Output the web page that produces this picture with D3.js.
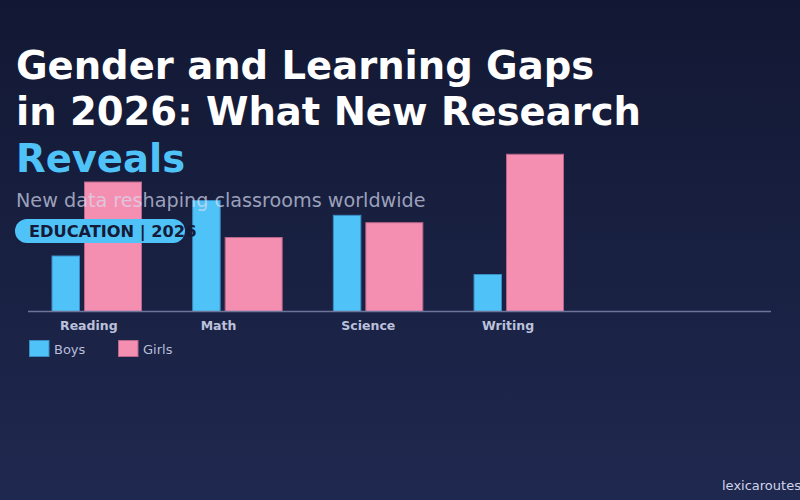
<!DOCTYPE html>
<html>
<head>
<meta charset="utf-8">
<script src="https://cdn.jsdelivr.net/npm/d3@7"></script>
<style>
  html, body { margin: 0; padding: 0; overflow: hidden; }
  body { width: 800px; height: 500px; }
  text { font-family: "DejaVu Sans", sans-serif; }
</style>
</head>
<body>
<script>
const subjects = ["Reading", "Math", "Science", "Writing"];
const seriesNames = ["Boys", "Girls"];
const boysValues = [30, 60, 52, 20];
const girlsValues = [70, 40, 48, 85];

const w = 800;
const h = 500;
const baseY = 311.5;
const colors = { Boys: "#4fc3f7", Girls: "#f48fb1" };
const strokes = { Boys: "#3a8cc4", Girls: "#b8668b" };
const barW = { Boys: 27.5, Girls: 57 };

const svg = d3.select("body")
    .append("svg")
    .attr("width", w)
    .attr("height", h);

// background gradient
const grad = svg.append("defs").append("linearGradient")
    .attr("id", "bg")
    .attr("x1", 0).attr("y1", 0)
    .attr("x2", 0).attr("y2", 1);
grad.append("stop").attr("offset", "0%").attr("stop-color", "#121833");
grad.append("stop").attr("offset", "100%").attr("stop-color", "#1f284f");
svg.append("rect")
    .attr("width", w)
    .attr("height", h)
    .attr("fill", "url(#bg)");

// scales
const xGroup = d3.scaleBand()
    .domain(subjects)
    .range([52, 52 + 140.67 * subjects.length]);

const y = d3.scaleLinear()
    .domain([0, 100])
    .range([baseY, baseY - 185]);

const rows = subjects.map((s, i) => ({ subject: s, Boys: boysValues[i], Girls: girlsValues[i] }));

// bars
const groups = svg.selectAll(".group")
    .data(rows)
    .enter()
    .append("g")
    .attr("class", "group")
    .attr("transform", d => `translate(${xGroup(d.subject)},0)`);

groups.selectAll("rect")
    .data(d => seriesNames.map(k => ({ key: k, value: d[k] })))
    .enter()
    .append("rect")
    .attr("x", d => d.key === "Boys" ? 0 : barW.Boys + 5)
    .attr("y", d => y(d.value))
    .attr("width", d => barW[d.key])
    .attr("height", d => baseY - y(d.value))
    .attr("fill", d => colors[d.key])
    .attr("stroke", d => strokes[d.key])
    .attr("stroke-width", 1);

// baseline
svg.append("line")
    .attr("x1", 28)
    .attr("x2", 771)
    .attr("y1", baseY)
    .attr("y2", baseY)
    .attr("stroke", "#6b7399")
    .attr("stroke-width", 1.5);

// category labels
svg.selectAll(".cat")
    .data(subjects)
    .enter()
    .append("text")
    .attr("class", "cat")
    .attr("x", d => xGroup(d) + 8)
    .attr("y", 330)
    .attr("fill", "#bcc1db")
    .attr("font-size", 12.5)
    .attr("font-weight", "bold")
    .text(d => d);

// legend
const legend = svg.append("g")
    .attr("transform", "translate(29.5, 340.5)");

const legendItem = legend.selectAll(".item")
    .data(seriesNames)
    .enter()
    .append("g")
    .attr("class", "item")
    .attr("transform", (d, i) => `translate(${i * 89}, 0)`);

legendItem.append("rect")
    .attr("width", 19.5)
    .attr("height", 16)
    .attr("fill", d => colors[d])
    .attr("stroke", d => strokes[d])
    .attr("stroke-width", 1);

legendItem.append("text")
    .attr("x", 24.5)
    .attr("y", 13)
    .attr("fill", "#b8bedb")
    .attr("font-size", 13)
    .text(d => d);

// title
const title = svg.append("text")
    .attr("font-size", 38.5)
    .attr("font-weight", "bold");
title.append("tspan").attr("x", 16).attr("y", 78.5).attr("fill", "#ffffff")
    .text("Gender and Learning Gaps");
title.append("tspan").attr("x", 16).attr("y", 125).attr("fill", "#ffffff")
    .text("in 2026: What New Research");
title.append("tspan").attr("x", 16).attr("y", 172).attr("fill", "#4fc3f7")
    .text("Reveals");

// subtitle
svg.append("text")
    .attr("x", 16)
    .attr("y", 207)
    .attr("font-size", 19.2)
    .attr("fill", "#d8dcf0")
    .attr("fill-opacity", 0.7)
    .text("New data reshaping classrooms worldwide");

// badge
svg.append("rect")
    .attr("x", 15)
    .attr("y", 219)
    .attr("width", 170)
    .attr("height", 24)
    .attr("rx", 12)
    .attr("fill", "#4fc3f7");

svg.append("text")
    .attr("x", 29)
    .attr("y", 237)
    .attr("font-size", 16.2)
    .attr("font-weight", "bold")
    .attr("fill", "#141a38")
    .text("EDUCATION | 2026");

// watermark
svg.append("text")
    .attr("x", 722)
    .attr("y", 490)
    .attr("font-size", 13)
    .attr("fill", "#d0d4ea")
    .text("lexicaroutes");
</script>
</body>
</html>
